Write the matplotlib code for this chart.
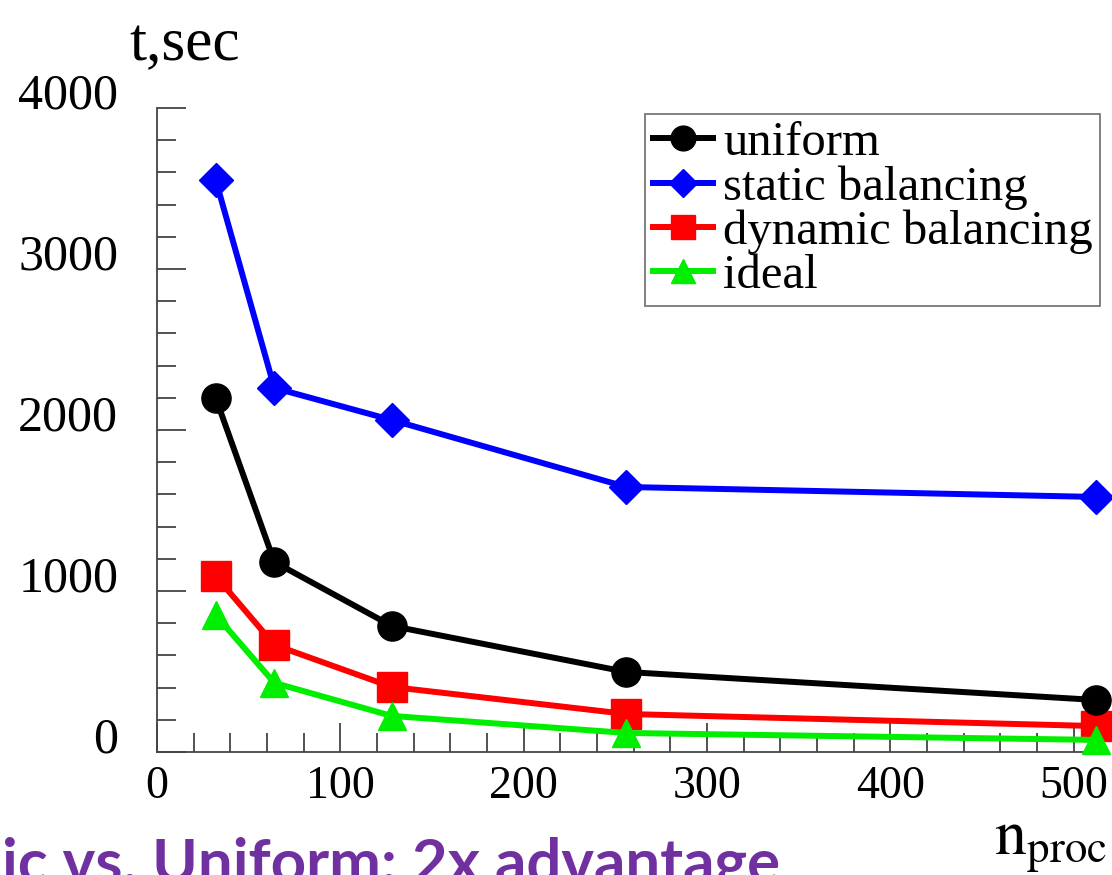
import numpy as np
import matplotlib.pyplot as plt
import matplotlib.transforms as mtransforms

plt.rcParams['font.family'] = ['Liberation Serif', 'DejaVu Serif']
plt.rcParams['mathtext.fontset'] = 'stix'

nproc = [32, 64, 128, 256, 512]
t_uniform = [2199, 1180, 783, 497, 323]
t_static = [3553, 2261, 2062, 1646, 1584]
t_dynamic = [1093, 665, 404, 236, 161]
t_ideal = [851, 429, 224, 118, 75]

fig = plt.figure(figsize=(11.12, 8.75), dpi=100)
ax = fig.add_axes([0.1412, 0.1406, 0.8525, 0.736])

lw = 4.3
ax.plot(nproc, t_uniform, '-o', color='black', lw=lw, ms=21, label='uniform', clip_on=False, zorder=4)
ax.plot(nproc, t_static, '-D', color='#0000ff', lw=lw, ms=17, label='static balancing', clip_on=False, zorder=3)
ax.plot(nproc, t_dynamic, '-s', color='#ff0000', lw=lw, ms=21, label='dynamic balancing', clip_on=False, zorder=3)
ax.plot(nproc, t_ideal, '-^', color='#00ee00', lw=lw, ms=20, label='ideal', clip_on=False, zorder=3)

ax.set_xlim(0, 517)
ax.set_ylim(0, 4000)
ax.set_xticks(np.arange(0, 501, 100))
ax.set_xticks(np.arange(0, 517, 20), minor=True)
ax.set_yticks(np.arange(0, 4001, 1000))
ax.set_yticks(np.arange(0, 4001, 200), minor=True)

for s in ['top', 'right']:
    ax.spines[s].set_visible(False)
for s in ['left', 'bottom']:
    ax.spines[s].set_color('#444444')
    ax.spines[s].set_linewidth(1.3)

ax.tick_params(which='both', direction='in', color='#444444', width=1.3)
ax.tick_params(which='major', length=21)
ax.tick_params(which='minor', length=14)
ax.tick_params(axis='y', pad=28, labelsize=36)
ax.tick_params(axis='x', pad=10, labelsize=33)

# y labels sit a bit above their ticks
shift = mtransforms.ScaledTranslation(0, 17 / 100, fig.dpi_scale_trans)
for lab in ax.get_yticklabels():
    lab.set_transform(lab.get_transform() + shift)

leg = ax.legend(loc='upper right', bbox_to_anchor=(1100 / 1112, 1 - 114 / 875),
                bbox_transform=fig.transFigure, fontsize=35, frameon=True,
                fancybox=False, edgecolor='#555555', labelspacing=0.0,
                handlelength=1.25, handletextpad=0.2, borderpad=0.15,
                borderaxespad=0, markerscale=0.85)
leg.get_frame().set_linewidth(1.3)

fig.text(185 / 1112, 1 - 45 / 875, 't,sec', fontsize=44, ha='center', va='center')
fig.text(1050 / 1112, 1 - 846 / 875, r'$\mathrm{n}_{\mathrm{proc}}$', fontsize=46,
         ha='center', va='center')
fig.text(0.002, -0.008, 'ic vs. Uniform: 2x advantage', fontsize=44.5, fontweight='bold',
         color='#7030a0', family='Lato', ha='left', va='baseline')

fig.savefig('out.png', dpi=100)
